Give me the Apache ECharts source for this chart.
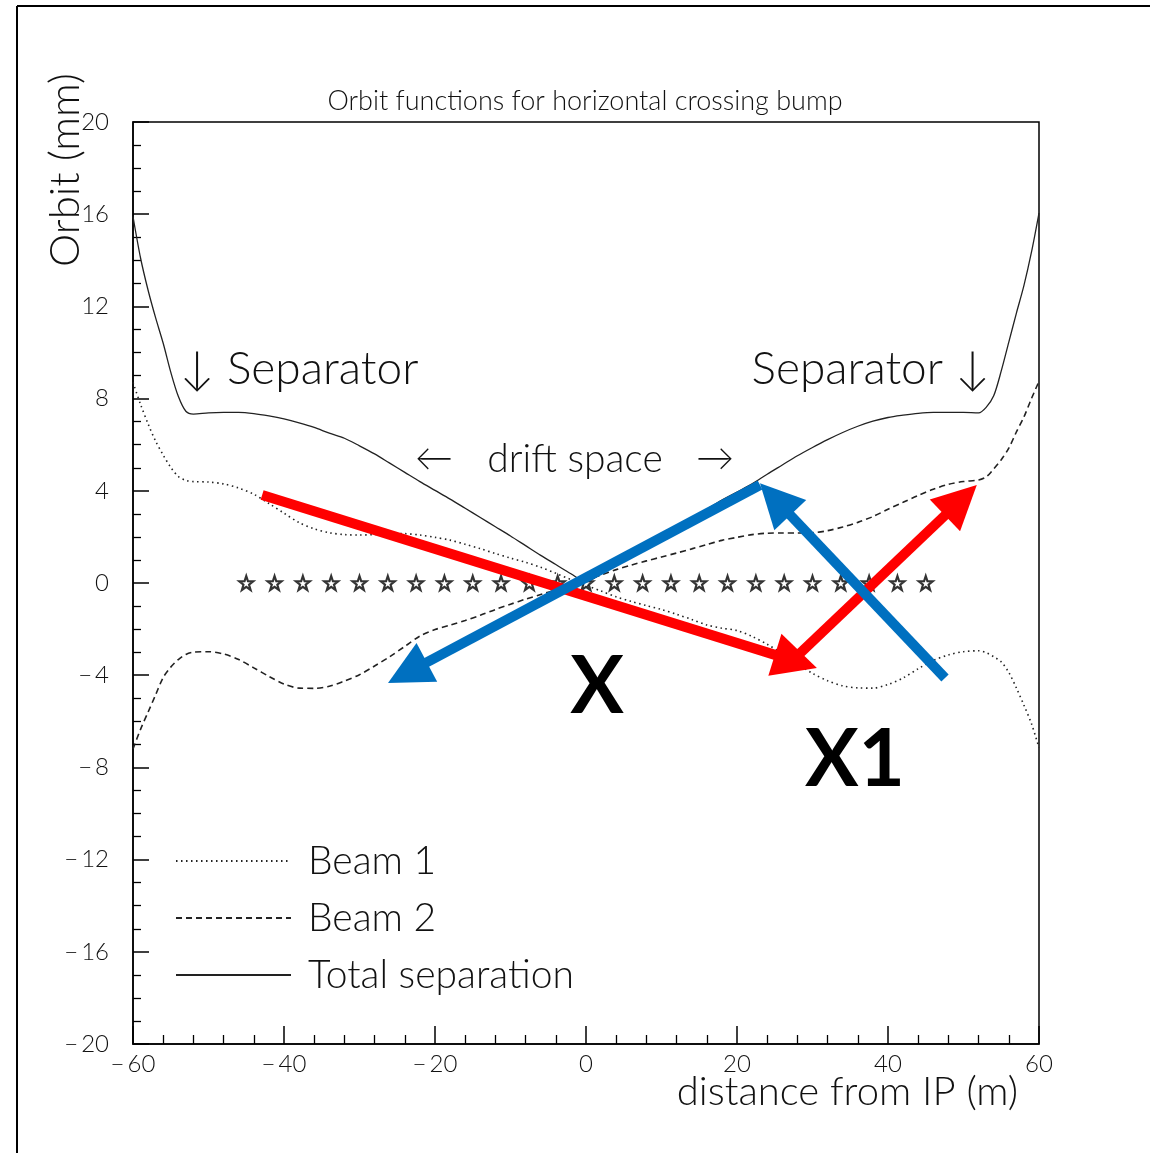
<!DOCTYPE html>
<html>
<head>
<meta charset="utf-8">
<script src="https://cdn.jsdelivr.net/npm/echarts@6/dist/echarts.min.js"></script>
<style>html,body{margin:0;padding:0;background:#fff}#c{width:1150px;height:1153px}</style>
</head>
<body>
<div id="c"></div>
<script>
// ---- data ----
const xs = [-60,-59,-58,-57,-56,-55,-54,-53,-52,-50,-48,-46,-44,-42,-40,-38,-36,-34,-32,-30,-28,-26,-24,-22,-20,-18,-16,-14,-12,-10,-8,-6,-4,-2,0,2,4,6,8,10,12,14,16,18,20,22,24,26,28,30,32,34,36,38,40,42,44,46,48,50,52,53,54,55,56,57,58,59,60];
const beam1 = [8.7,7.75,6.9,6.15,5.55,5.02,4.62,4.45,4.4,4.38,4.3,4.12,3.85,3.45,3.03,2.62,2.35,2.18,2.1,2.08,2.1,2.14,2.14,2.08,1.98,1.86,1.68,1.49,1.28,1.08,0.9,0.68,0.42,0.15,-0.1,-0.35,-0.6,-0.8,-0.98,-1.15,-1.36,-1.58,-1.82,-1.96,-2.06,-2.32,-2.66,-3.06,-3.5,-3.92,-4.24,-4.46,-4.55,-4.56,-4.4,-4.12,-3.72,-3.36,-3.12,-2.98,-2.94,-3.02,-3.2,-3.42,-3.88,-4.55,-5.3,-6.1,-7.15];
const beam2 = [-7.2,-6.35,-5.6,-4.85,-4.1,-3.65,-3.32,-3.1,-3.0,-2.98,-3.08,-3.32,-3.68,-4.05,-4.38,-4.56,-4.57,-4.48,-4.25,-3.98,-3.6,-3.2,-2.75,-2.3,-2.02,-1.83,-1.63,-1.4,-1.15,-0.92,-0.7,-0.5,-0.3,-0.1,0.12,0.35,0.58,0.78,0.96,1.13,1.3,1.48,1.67,1.85,1.98,2.1,2.16,2.17,2.17,2.18,2.27,2.43,2.63,2.88,3.2,3.5,3.8,4.07,4.28,4.4,4.47,4.6,4.95,5.35,5.85,6.55,7.2,8.0,8.75];
const totalSep = [15.9,14.1,12.7,11.5,10.4,9.15,8.1,7.45,7.33,7.38,7.4,7.4,7.35,7.25,7.12,6.95,6.75,6.5,6.28,5.95,5.6,5.2,4.8,4.4,4.02,3.64,3.24,2.84,2.44,2.04,1.62,1.2,0.8,0.4,0.05,0.4,0.8,1.2,1.6,2.0,2.4,2.8,3.2,3.6,3.95,4.3,4.72,5.12,5.52,5.88,6.22,6.53,6.8,7.02,7.18,7.28,7.36,7.4,7.4,7.4,7.38,7.62,8.12,9.2,10.45,11.7,12.9,14.35,16.05];
const starX = [-45,-41.25,-37.5,-33.75,-30,-26.25,-22.5,-18.75,-15,-11.25,-7.5,-3.75,0,3.75,7.5,11.25,15,18.75,22.5,26.25,30,33.75,37.5,41.25,45];
const starY = 0;
const seriesNames = ['Beam 1','Beam 2','Total separation'];
// annotation arrows (data units): [start, end]
const redArrows = [[[-42.9,3.82],[27.8,-3.40]], [[27.95,-3.17],[49.65,3.59]]];
const blueArrows = [[[23.05,4.25],[-23.65,-3.89]], [[47.55,-4.12],[25.05,3.64]]];
const xTicks = {min:-60, max:60, interval:20};
const yTicks = {min:-20, max:20, interval:4};

const FONT = "Lato, 'DejaVu Sans', sans-serif";
const INK = '#111';
const fmt = v => v < 0 ? '\u2212\u2009' + Math.abs(v) : String(v);
const pairs = arr => xs.map((x,i) => [x, arr[i]]);

const chart = echarts.init(document.getElementById('c'), null, {renderer:'canvas'});
const starPath = 'path://M0,-10 L2.35,-3.24 L9.51,-3.09 L3.8,1.24 L5.88,8.09 L0,4 L-5.88,8.09 L-3.8,1.24 L-9.51,-3.09 L-2.35,-3.24 Z';

function txt(text, x, y, size, opts) {
  opts = opts || {};
  return {
    type:'text', x:x, y:y, rotation: opts.rotation || 0, z: 100,
    style:{text:text, fill: opts.fill || INK, fontSize:size, fontFamily: opts.family || FONT,
      fontWeight: opts.weight || 300, align: opts.align || 'center', verticalAlign:'middle'}
  };
}

chart.setOption({
  backgroundColor:'#fff',
  animation:false,
  color:['#222','#222','#222'],
  grid:{left:133, right:111, top:122, bottom:109, show:true, borderColor:'#000', borderWidth:1.5, backgroundColor:'transparent'},
  xAxis:{
    type:'value', min:xTicks.min, max:xTicks.max, interval:xTicks.interval,
    axisLine:{show:true, onZero:false, lineStyle:{color:'#000', width:1.5}},
    axisTick:{show:true, inside:true, length:18, lineStyle:{color:'#000', width:1.5}},
    minorTick:{show:true, splitNumber:5, length:9, lineStyle:{color:'#000', width:1.3}},
    splitLine:{show:false},
    axisLabel:{margin:8, color:INK, fontSize:24, fontFamily:FONT, fontWeight:300, formatter:fmt}
  },
  yAxis:{
    type:'value', min:yTicks.min, max:yTicks.max, interval:yTicks.interval,
    axisLine:{show:true, onZero:false, lineStyle:{color:'#000', width:1.5}},
    axisTick:{show:true, inside:true, length:16, lineStyle:{color:'#000', width:1.5}},
    minorTick:{show:true, splitNumber:4, length:8, lineStyle:{color:'#000', width:1.3}},
    splitLine:{show:false},
    axisLabel:{margin:24, color:INK, fontSize:24, fontFamily:FONT, fontWeight:300, formatter:fmt}
  },
  legend:{
    orient:'vertical', left:170, top:836, itemWidth:115, itemHeight:2, itemGap:17,
    data: seriesNames,
    itemStyle:{color:'rgba(0,0,0,0)', borderColor:'rgba(0,0,0,0)', borderWidth:0},
    textStyle:{fontSize:39, fontFamily:FONT, fontWeight:300, color:INK, lineHeight:40, padding:[0,0,0,12]}
  },
  series:[
    {name:seriesNames[0], type:'line', data:pairs(beam1), symbol:'none', smooth:0.3,
      itemStyle:{color:'#222'}, lineStyle:{color:'#222', width:1.6, type:[1.5,3.5]}, z:3},
    {name:seriesNames[1], type:'line', data:pairs(beam2), symbol:'none', smooth:0.3,
      itemStyle:{color:'#222'}, lineStyle:{color:'#222', width:1.6, type:[6,4]}, z:3},
    {name:seriesNames[2], type:'line', data:pairs(totalSep), symbol:'none', smooth:0.3,
      itemStyle:{color:'#222'}, lineStyle:{color:'#222', width:1.3, type:'solid'}, z:3},
    {name:'IP stars', type:'scatter', data:starX.map(x => [x, starY]), symbol:starPath, symbolSize:14,
      itemStyle:{color:'rgba(0,0,0,0)', borderColor:'#000', borderWidth:2.2}, z:4, silent:true},
    {name:'red', type:'lines', coordinateSystem:'cartesian2d', data:redArrows.map(c => ({coords:c})),
      symbol:['none','triangle'], symbolSize:44,
      lineStyle:{color:'#ff0000', width:10, opacity:1, curveness:0}, z:10, silent:true},
    {name:'blue', type:'lines', coordinateSystem:'cartesian2d', data:blueArrows.map(c => ({coords:c})),
      symbol:['none','triangle'], symbolSize:44,
      lineStyle:{color:'#0070c0', width:10, opacity:1, curveness:0}, z:11, silent:true}
  ],
  graphic:[
    {type:'line', shape:{x1:17, y1:6, x2:17, y2:1153}, style:{stroke:'#000', lineWidth:2}},
    {type:'line', shape:{x1:17, y1:6, x2:1150, y2:6}, style:{stroke:'#000', lineWidth:2}},
    txt('Orbit functions for horizontal crossing bump', 585, 101, 27),
    txt('Orbit (mm)', 65, 170, 42, {rotation:Math.PI/2}),
    txt('distance from IP (m)', 1018, 1092, 40, {align:'right'}),
    txt('\u2193 Separator', 180, 369, 46, {align:'left'}),
    txt('Separator \u2193', 990, 369, 46, {align:'right'}),
    txt('\u2190', 434, 459, 38),
    txt('drift space', 575, 459, 39),
    txt('\u2192', 715, 459, 38),
    txt('X', 597, 687, 80, {weight:'bold', fill:'#000'}),
    txt('X1', 855, 760, 80, {weight:'bold', fill:'#000'})
  ]
});
</script>
</body>
</html>
